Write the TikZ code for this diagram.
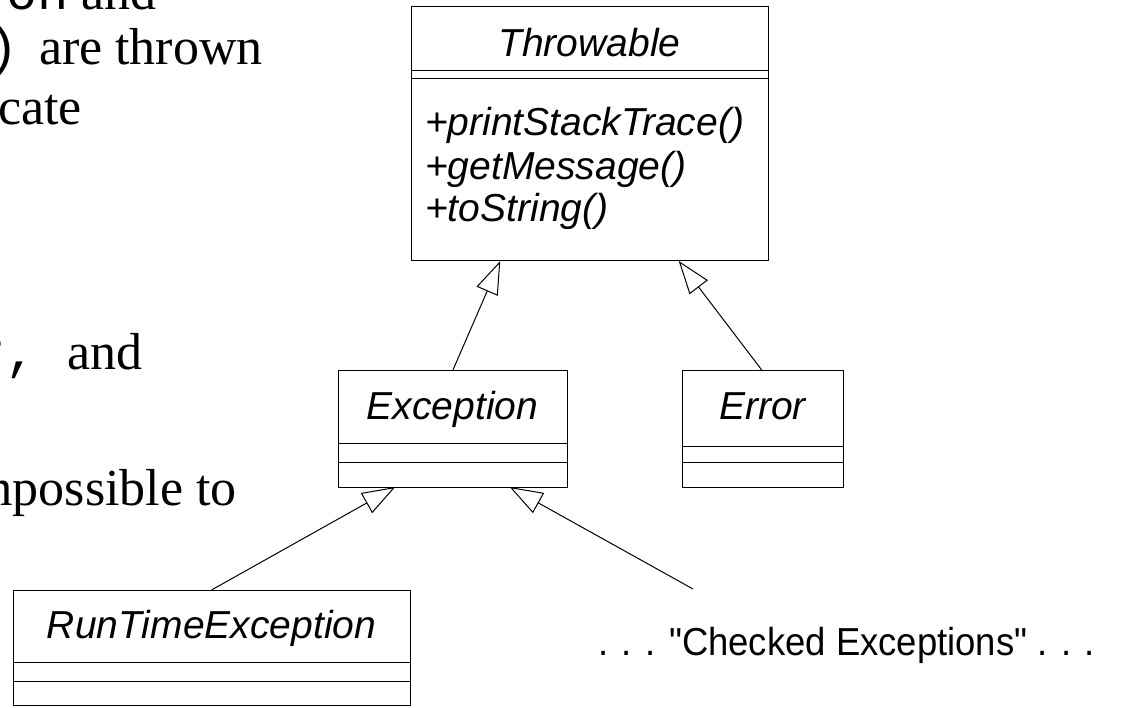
\documentclass[tikz,border=0pt]{standalone}
\usepackage{fontspec}
\setmainfont{Liberation Serif}
\setsansfont{Liberation Sans}
\setmonofont{Liberation Mono}
\newfontfamily\chkfont{Liberation Sans}
\usetikzlibrary{arrows.meta,calc}
\begin{document}
\begin{tikzpicture}[x=1pt,y=-1pt,
  box/.style={draw, line width=1pt, inner sep=0pt, outer sep=0pt},
  uml/.style={font=\fontsize{39}{45}\selectfont\sffamily\itshape, inner sep=0pt, anchor=base},
  umlm/.style={uml, anchor=base west},
  slide/.style={font=\fontsize{52}{60}\selectfont\rmfamily, inner sep=0pt, anchor=base east},
  inherit/.style={line width=1pt, -{Triangle[open, length=33pt, width=23pt]}},
  sep/.style={line width=1pt}]
\useasboundingbox (0,0) rectangle (1135,708);

% slide text (clipped by the page edges)
\node[slide] (l1) at (157,10) {\texttt{on} and};
\node[slide] (l2) at (263,65) {\texttt{)}\hspace{7pt} are thrown};
\node[slide] (l3) at (82,125) {cate};
\node[slide] (l4) at (143,370) {\texttt{r,\ }and};
\node[slide] (l5) at (237,505) {mpossible to};

% Throwable
\node[box, minimum width=357pt, minimum height=254pt] (throw) at (589.5,134) {};
\node[uml] (throwT) at (589.5,57) {Throwable};
\draw[sep] (throw.west |- 0,71) -- (throw.east |- 0,71);
\draw[sep] (throw.west |- 0,79) -- (throw.east |- 0,79);
\node[umlm] (m1) at (425,136) {+printStackTrace()};
\node[umlm] (m2) at (425,180) {+getMessage()};
\node[umlm] (m3) at (425,222) {+toString()};

% Exception
\node[box, minimum width=229pt, minimum height=116pt] (exc) at (452.5,429) {};
\node[uml] (excT) at (452.5,420) {Exception};
\draw[sep] (exc.west |- 0,443) -- (exc.east |- 0,443);
\draw[sep] (exc.west |- 0,462) -- (exc.east |- 0,462);

% Error
\node[box, minimum width=161pt, minimum height=116pt] (err) at (762.5,429) {};
\node[uml] (errT) at (762.5,420) {Error};
\draw[sep] (err.west |- 0,446) -- (err.east |- 0,446);
\draw[sep] (err.west |- 0,462) -- (err.east |- 0,462);

% RunTimeException
\node[box, minimum width=397pt, minimum height=115pt] (rte) at (211.5,647.5) {};
\node[uml] (rteT) at (211.5,638) {RunTimeException};
\draw[sep] (rte.west |- 0,662) -- (rte.east |- 0,662);
\draw[sep] (rte.west |- 0,681) -- (rte.east |- 0,681);

% Checked exceptions
\node[font=\fontsize{39}{45}\selectfont\chkfont, inner sep=0pt, anchor=base west] (chk) at (598,655) {\scalebox{0.935}[1]{. . . "Checked Exceptions" . . .}};
\coordinate (chkend) at (693,589);

% inheritance
\draw[inherit] (exc.north) -- ($(throw.south west)!0.25!(throw.south east)$);
\draw[inherit] (err.north) -- ($(throw.south west)!0.75!(throw.south east)$);
\draw[inherit] (rte.north) -- ($(exc.south west)!0.25!(exc.south east)$);
\draw[inherit] (chkend) -- ($(exc.south west)!0.75!(exc.south east)$);
\end{tikzpicture}
\end{document}
